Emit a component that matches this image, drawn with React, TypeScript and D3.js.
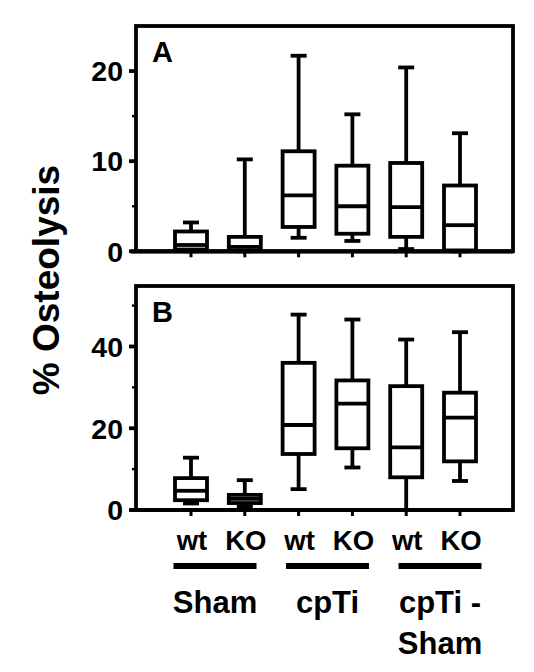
import React from "react";
import * as d3 from "d3";

const categories = ["wt", "KO", "wt", "KO", "wt", "KO"];
const groups = ["Sham", "cpTi", "cpTi -\nSham"];

// Panel A (% osteolysis)
const aMin = [0.0, 0.0, 1.5, 1.15, 0.25, 0.0];
const aQ1 = [0.2, 0.1, 2.7, 1.95, 1.6, 0.1];
const aMed = [0.7, 0.5, 6.2, 5.0, 4.9, 2.9];
const aQ3 = [2.2, 1.6, 11.1, 9.5, 9.8, 7.3];
const aMax = [3.2, 10.2, 21.7, 15.2, 20.4, 13.1];
const aTicks = [0, 10, 20];
const aMinor = [5, 15];

// Panel B
const bMin = [1.6, 0.8, 5.1, 10.4, 0.0, 7.1];
const bQ1 = [2.4, 1.7, 13.7, 15.1, 8.0, 11.9];
const bMed = [4.7, 2.7, 20.8, 26.0, 15.3, 22.6];
const bQ3 = [7.8, 3.7, 36.0, 31.7, 30.3, 28.7];
const bMax = [12.8, 7.3, 47.8, 46.6, 41.7, 43.5];
const bTicks = [0, 20, 40];
const bMinor = [10, 30, 50];

const FONT = "'Liberation Sans', Arial, Helvetica, sans-serif";
const SW = 3.8;
const LEFT = 136;
const RIGHT = 513;

const x = d3.scalePoint<number>().domain(d3.range(6)).range([191, 460]);
const gx = d3.scalePoint<number>().domain(d3.range(3)).range([215, 440]);
const BOXW = 32;
const CAPW = 16;

type PanelProps = {
  label: string;
  top: number;
  bottom: number;
  domainMax: number;
  ticks: number[];
  minor: number[];
  mn: number[];
  q1: number[];
  md: number[];
  q3: number[];
  mx: number[];
};

function Panel(p: PanelProps) {
  const y = d3.scaleLinear().domain([0, p.domainMax]).range([p.bottom, p.top]);
  return (
    <g>
      <rect x={LEFT} y={p.top} width={RIGHT - LEFT} height={p.bottom - p.top} fill="none" stroke="#000" strokeWidth={SW} />
      <line x1={131} x2={RIGHT} y1={p.bottom} y2={p.bottom} stroke="#000" strokeWidth={SW + 0.4} />
      {p.ticks.map((t) => (
        <g key={"t" + t}>
          <line x1={129} x2={LEFT} y1={y(t)} y2={y(t)} stroke="#000" strokeWidth={SW} />
          <text x={123} y={y(t)} dy="0.36em" textAnchor="end" fontFamily={FONT} fontWeight="bold" fontSize={28.5}>
            {t}
          </text>
        </g>
      ))}
      {p.minor.map((t) => (
        <line key={"m" + t} x1={132} x2={LEFT} y1={y(t)} y2={y(t)} stroke="#000" strokeWidth={2.5} />
      ))}
      {categories.map((_, i) => (
        <line key={"x" + i} x1={x(i)!} x2={x(i)!} y1={p.bottom} y2={p.bottom + 6} stroke="#000" strokeWidth={3} />
      ))}
      {categories.map((_, i) => {
        const cx = x(i)!;
        return (
          <g key={"b" + i}>
            <line x1={cx} x2={cx} y1={y(p.q3[i])} y2={y(p.mx[i])} stroke="#000" strokeWidth={SW} />
            <line x1={cx} x2={cx} y1={y(p.q1[i])} y2={y(p.mn[i])} stroke="#000" strokeWidth={SW} />
            <line x1={cx - CAPW / 2} x2={cx + CAPW / 2} y1={y(p.mx[i])} y2={y(p.mx[i])} stroke="#000" strokeWidth={SW} />
            <line x1={cx - CAPW / 2} x2={cx + CAPW / 2} y1={y(p.mn[i])} y2={y(p.mn[i])} stroke="#000" strokeWidth={SW} />
            <rect
              x={cx - BOXW / 2}
              y={y(p.q3[i])}
              width={BOXW}
              height={y(p.q1[i]) - y(p.q3[i])}
              fill="#fff"
              stroke="#000"
              strokeWidth={SW}
            />
            <line x1={cx - BOXW / 2} x2={cx + BOXW / 2} y1={y(p.md[i])} y2={y(p.md[i])} stroke="#000" strokeWidth={SW} />
          </g>
        );
      })}
      <text x={152} y={p.top + 35.5} fontFamily={FONT} fontWeight="bold" fontSize={29}>
        {p.label}
      </text>
    </g>
  );
}

export default function App() {
  return (
    <svg width={534} height={672} style={{ position: "absolute", left: 0, top: 0, background: "#fff" }}>
      <rect width={534} height={672} fill="#fff" />
      <Panel label="A" top={26} bottom={251.3} domainMax={25} ticks={aTicks} minor={aMinor} mn={aMin} q1={aQ1} md={aMed} q3={aQ3} mx={aMax} />
      <Panel label="B" top={286} bottom={510} domainMax={54.8} ticks={bTicks} minor={bMinor} mn={bMin} q1={bQ1} md={bMed} q3={bQ3} mx={bMax} />
      <text transform="translate(59,280) rotate(-90)" textAnchor="middle" fontFamily={FONT} fontWeight="bold" fontSize={37}>
        % Osteolysis
      </text>
      {categories.map((c, i) => (
        <text key={"c" + i} x={x(i)! + 1} y={550} textAnchor="middle" fontFamily={FONT} fontWeight="bold" fontSize={27.5}>
          {c}
        </text>
      ))}
      {groups.map((g, gi) => {
        const cx = gx(gi)!;
        const lines = g.split("\n");
        return (
          <g key={"g" + gi}>
            <line x1={cx - 41.5} x2={cx + 41.5} y1={566} y2={566} stroke="#000" strokeWidth={6} />
            {lines.map((l, li) => (
              <text key={li} x={cx} y={612.5 + li * 41} textAnchor="middle" fontFamily={FONT} fontWeight="bold" fontSize={31}>
                {l}
              </text>
            ))}
          </g>
        );
      })}
    </svg>
  );
}
